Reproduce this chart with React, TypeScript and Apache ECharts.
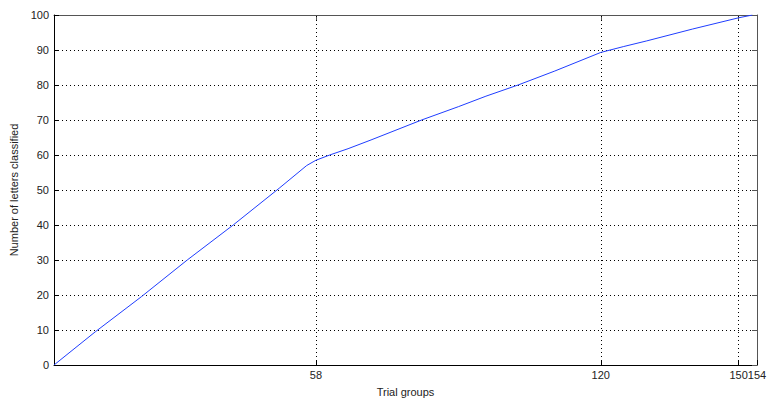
import React, { useEffect, useRef } from "react";
import * as echarts from "echarts";

const xTicks = [58, 120, 150, 154];
const xGrid = [58, 120, 150];
const trialGroups = [1, 10, 20, 30, 40, 50, 56, 58, 61, 65, 70, 81, 89, 95, 102, 110, 120, 125, 130, 140, 150, 153];
const lettersClassified = [0, 9.5, 19.5, 30, 40, 50.5, 57, 58.5, 60, 61.8, 64.3, 70, 73.8, 76.8, 80, 84, 89.3, 91, 92.6, 96, 99.2, 100];

const FONT = "Liberation Sans";

export default function App() {
  const ref = useRef<HTMLDivElement>(null);
  useEffect(() => {
    if (!ref.current) return;
    const chart = echarts.init(ref.current, null, { renderer: "svg" });
    const dotted = { color: "#000", width: 1, type: [1, 3] as any };
    chart.setOption({
      animation: false,
      backgroundColor: "#fff",
      grid: { left: 54, right: 12, top: 15, bottom: 37, containLabel: false, outerBoundsMode: "none" },
      xAxis: [
        {
          type: "value",
          min: 1,
          max: 154,
          name: "Trial groups",
          nameLocation: "middle",
          nameGap: 21,
          nameTextStyle: { fontFamily: FONT, fontSize: 11, color: "#222" },
          axisLine: { show: true, lineStyle: { color: "#000", width: 1 } },
          axisTick: { show: true, inside: true, length: 5, customValues: xTicks, lineStyle: { color: "#000" } },
          axisLabel: { customValues: xTicks, fontFamily: FONT, fontSize: 11, color: "#222", margin: 4 },
          splitLine: { show: false },
        },
        {
          type: "value",
          position: "top",
          min: 1,
          max: 154,
          axisLine: { show: true, onZero: false, lineStyle: { color: "#555", width: 1 } },
          axisTick: { show: true, inside: true, length: 5, customValues: xTicks, lineStyle: { color: "#555" } },
          axisLabel: { show: false },
          splitLine: { show: false },
        },
      ],
      yAxis: [
        {
          type: "value",
          min: 0,
          max: 100,
          interval: 10,
          name: "Number of letters classified",
          nameLocation: "middle",
          nameGap: 33,
          nameTextStyle: { fontFamily: FONT, fontSize: 11, color: "#222" },
          axisLine: { show: true, lineStyle: { color: "#000", width: 1 } },
          axisTick: { show: true, inside: true, length: 5, lineStyle: { color: "#000" } },
          axisLabel: { fontFamily: FONT, fontSize: 11, color: "#222", margin: 5 },
          splitLine: { show: true, lineStyle: dotted },
        },
        {
          type: "value",
          position: "right",
          min: 0,
          max: 100,
          interval: 10,
          axisLine: { show: true, onZero: false, lineStyle: { color: "#555", width: 1 } },
          axisTick: { show: true, inside: true, length: 5, lineStyle: { color: "#555" } },
          axisLabel: { show: false },
          splitLine: { show: false },
        },
      ],
      series: [
        {
          type: "line",
          xAxisIndex: 0,
          yAxisIndex: 0,
          data: trialGroups.map((x, i) => [x, lettersClassified[i]]),
          showSymbol: false,
          symbol: "none",
          lineStyle: { color: "#1f3dff", width: 1 },
          z: 5,
          markLine: {
            silent: true,
            symbol: ["none", "none"],
            label: { show: false },
            lineStyle: dotted,
            z: 1,
            data: xGrid.map((v) => ({ xAxis: v })),
          },
        },
      ],
    });
    return () => chart.dispose();
  }, []);
  return <div ref={ref} style={{ position: "absolute", left: 0, top: 0, width: 769, height: 402 }} />;
}
